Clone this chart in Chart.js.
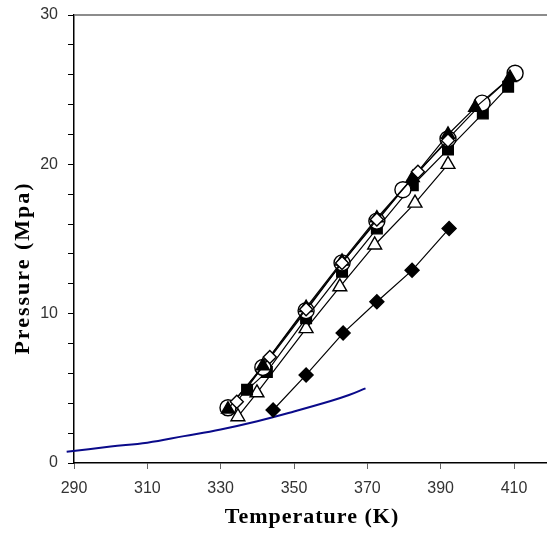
<!DOCTYPE html>
<html>
<head>
<meta charset="utf-8">
<script src="https://cdn.jsdelivr.net/npm/chart.js@4/dist/chart.umd.min.js"></script>
<style>
  html, body { margin: 0; padding: 0; background: #fff; }
  #wrap { width: 547px; height: 533px; }
</style>
</head>
<body>
<div id="wrap"><canvas id="myChart" width="547" height="533"></canvas></div>
<script>
// tick labels
const xTicks = [290, 310, 330, 350, 370, 390, 410];
const yTicks = [0, 10, 20, 30];

// series (temperature K, pressure MPa)
const openDiamondT = [334.4, 343.4, 353.3, 363.1, 372.6, 383.8, 392];
const openDiamondP = [4.1, 7.1, 10.3, 13.4, 16.3, 19.5, 21.6];

const filledTriangleT = [332, 341.5, 353.3, 363.1, 372.6, 382.4, 392, 399.4, 408.9];
const filledTriangleP = [3.6, 6.5, 10.4, 13.5, 16.4, 19.1, 22.0, 23.8, 25.8];

const openCircleT = [332, 341.5, 353.3, 363.1, 372.6, 379.7, 392, 401.3, 410.3];
const openCircleP = [3.7, 6.4, 10.2, 13.4, 16.2, 18.3, 21.7, 24.1, 26.1];

const filledSquareT = [337.2, 342.6, 353.3, 363.1, 372.6, 382.4, 392, 401.5, 408.4];
const filledSquareP = [4.9, 6.1, 9.7, 12.8, 15.7, 18.6, 21.0, 23.4, 25.2];

const openTriangleT = [334.7, 339.9, 353.3, 362.5, 372, 383, 392];
const openTriangleP = [3.1, 4.7, 9.0, 11.8, 14.6, 17.4, 20.0];

const filledDiamondT = [344.3, 353.3, 363.4, 372.6, 382.2, 392.3];
const filledDiamondP = [3.55, 5.9, 8.7, 10.8, 12.9, 15.7];

const curveT = [288, 300, 310, 320, 330, 340, 350, 360, 365, 369.5];
const curveP = [0.75, 1.1, 1.36, 1.8, 2.25, 2.8, 3.45, 4.15, 4.55, 5.0];

const pts = (t, p) => t.map((v, i) => ({ x: v, y: p[i] }));

const markerSeries = (t, p, style, radius, fill) => ({
  data: pts(t, p),
  showLine: true,
  borderColor: "#000",
  borderWidth: 1.2,
  pointStyle: style,
  pointRadius: radius,
  pointHoverRadius: radius,
  pointBackgroundColor: fill,
  pointBorderColor: "#000",
  pointBorderWidth: 1.4,
});

// top frame line + axis titles
const framePlugin = {
  id: "framePlugin",
  afterDraw(chart) {
    const { ctx, chartArea } = chart;
    ctx.save();
    ctx.strokeStyle = "#666";
    ctx.lineWidth = 1.5;
    ctx.beginPath();
    ctx.moveTo(chartArea.left, chartArea.top);
    ctx.lineTo(chartArea.right, chartArea.top);
    ctx.stroke();

    ctx.fillStyle = "#000";
    ctx.font = 'bold 22px "Liberation Serif"';
    ctx.textAlign = "center";
    ctx.textBaseline = "middle";
    ctx.letterSpacing = "1px";
    ctx.fillText("Temperature (K)", 312, 517);
    ctx.letterSpacing = "2px";
    ctx.translate(23, 268);
    ctx.rotate(-Math.PI / 2);
    ctx.fillText("Pressure (Mpa)", 0, 0);
    ctx.restore();
  },
};

const myChartRef = document.getElementById("myChart").getContext("2d");

new Chart(myChartRef, {
  type: "scatter",
  data: {
    datasets: [
      markerSeries(openDiamondT, openDiamondP, "rectRot", 6.5, "#fff"),
      markerSeries(filledTriangleT, filledTriangleP, "triangle", 7.5, "#000"),
      markerSeries(openCircleT, openCircleP, "circle", 8, "#fff"),
      markerSeries(filledSquareT, filledSquareP, "rect", 7.5, "#000"),
      markerSeries(openTriangleT, openTriangleP, "triangle", 8, "#fff"),
      markerSeries(filledDiamondT, filledDiamondP, "rectRot", 7, "#000"),
      {
        data: pts(curveT, curveP),
        showLine: true,
        borderColor: "#0a0a8a",
        borderWidth: 2,
        pointRadius: 0,
        pointHoverRadius: 0,
        tension: 0.4,
        clip: false,
      },
    ],
  },
  options: {
    responsive: false,
    animation: false,
    devicePixelRatio: 1,
    layout: { autoPadding: false, padding: { top: 15, right: 0, left: 0, bottom: 0 } },
    plugins: { legend: { display: false }, tooltip: { enabled: false } },
    scales: {
      x: {
        type: "linear",
        min: 290,
        max: 419,
        afterFit: (scale) => {
          scale.height = 70;
          scale.paddingLeft = 0;
          scale.paddingRight = 0;
        },
        afterBuildTicks: (scale) => { scale.ticks = xTicks.map((v) => ({ value: v })); },
        border: { color: "#000", width: 1.5 },
        grid: { drawOnChartArea: false, drawTicks: true, tickLength: 6, color: "#666" },
        ticks: {
          padding: 10,
          color: "#333",
          font: { family: "Liberation Sans", size: 16 },
          maxRotation: 0,
        },
      },
      y: {
        type: "linear",
        min: 0,
        max: 30,
        afterFit: (scale) => {
          scale.width = 74;
          scale.paddingTop = 0;
          scale.paddingBottom = 0;
        },
        border: { color: "#000", width: 1.5 },
        grid: { drawOnChartArea: false, drawTicks: true, tickLength: 6, color: "#000" },
        ticks: {
          stepSize: 2,
          padding: 10,
          color: "#333",
          font: { family: "Liberation Sans", size: 16 },
          callback: (v) => (yTicks.includes(v) ? String(v) : ""),
        },
      },
    },
  },
  plugins: [framePlugin],
});
</script>
</body>
</html>
